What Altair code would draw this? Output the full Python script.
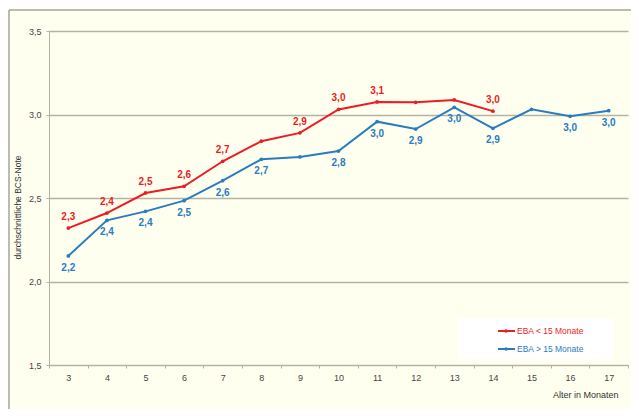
import altair as alt
import pandas as pd

ages = [3, 4, 5, 6, 7, 8, 9, 10, 11, 12, 13, 14, 15, 16, 17]

red_name = "EBA < 15 Monate"
red_ages = [3, 4, 5, 6, 7, 8, 9, 10, 11, 12, 13, 14]
red_vals = [2.32, 2.41, 2.53, 2.57, 2.72, 2.84, 2.89, 3.03, 3.075, 3.073, 3.087, 3.02]
red_labels = ["2,3", "2,4", "2,5", "2,6", "2,7", "", "2,9", "3,0", "3,1", "", "", "3,0"]

blue_name = "EBA > 15 Monate"
blue_ages = [3, 4, 5, 6, 7, 8, 9, 10, 11, 12, 13, 14, 15, 16, 17]
blue_vals = [2.153, 2.366, 2.42, 2.484, 2.604, 2.732, 2.746, 2.781, 2.957, 2.913, 3.043, 2.917, 3.031, 2.989, 3.023]
blue_labels = ["2,2", "2,4", "2,4", "2,5", "2,6", "2,7", "", "2,8", "3,0", "2,9", "3,0", "2,9", "", "3,0", "3,0"]

y_ticks = [1.5, 2.0, 2.5, 3.0, 3.5]

RED = "#ec1c24"
BLUE = "#2a7cc0"
BG = "#fffff0"
GRID = "#b3b3a3"
FONT = "Liberation Sans"

red_df = pd.DataFrame({"age": red_ages, "val": red_vals, "lab": red_labels, "series": red_name})
blue_df = pd.DataFrame({"age": blue_ages, "val": blue_vals, "lab": blue_labels, "series": blue_name})
df = pd.concat([red_df, blue_df], ignore_index=True)

x_enc = alt.X(
    "age:O",
    scale=alt.Scale(domain=ages, paddingInner=0, paddingOuter=0),
    axis=alt.Axis(
        title="Alter in Monaten",
        labelAngle=0,
        tickBand="extent",
        domainColor=GRID,
        tickColor=GRID,
        tickSize=3,
        labelPadding=5,
        labelFontSize=9,
        labelColor="#444444",
        labelFont=FONT,
        titleFont=FONT,
        titleFontSize=9,
        titleFontWeight="normal",
        titleColor="#333333",
        titleAnchor="end",
        titleAlign="right",
        titleX=569,
        titleY=29,
        titleBaseline="middle",
        grid=False,
    ),
)
y_enc = alt.Y(
    "val:Q",
    scale=alt.Scale(domain=[1.5, 3.5], nice=False, zero=False),
    axis=alt.Axis(
        title="durchschnittliche BCS-Note",
        values=y_ticks,
        labelExpr="replace(format(datum.value, '.1f'), '.', ',')",
        domainColor=GRID,
        tickColor=GRID,
        gridColor=GRID,
        gridWidth=1.3,
        tickSize=3,
        labelPadding=5,
        labelFontSize=9,
        labelColor="#444444",
        labelFont=FONT,
        titleFont=FONT,
        titleFontSize=8.5,
        titleFontWeight="normal",
        titleColor="#333333",
        titleX=-32,
        titleY=176,
        titleAngle=-90,
        titleAlign="center",
        titleBaseline="middle",
    ),
)

color_enc = alt.Color(
    "series:N",
    scale=alt.Scale(domain=[red_name, blue_name], range=[RED, BLUE]),
    legend=None,
)

base = alt.Chart(df)
lines = base.mark_line(strokeWidth=2).encode(x=x_enc, y=y_enc, color=color_enc, detail="series:N")
points = base.mark_point(filled=True, size=14, opacity=1).encode(x="age:O", y="val:Q", color=color_enc)
red_text = alt.Chart(red_df).mark_text(
    dy=-11, fontSize=10, fontWeight="bold", font=FONT, color=RED
).encode(x="age:O", y="val:Q", text="lab:N")
blue_text = alt.Chart(blue_df).mark_text(
    dy=12, fontSize=10, fontWeight="bold", font=FONT, color=BLUE
).encode(x="age:O", y="val:Q", text="lab:N")

# legend box
leg_items = pd.DataFrame({"series": [red_name, blue_name]})
one = leg_items.head(1)
leg_box = alt.Chart(one).mark_rect(color="white").encode(
    x=alt.value(409), x2=alt.value(564), y=alt.value(287), y2=alt.value(328)
)
leg_red_line = alt.Chart(one).mark_rule(color=RED, strokeWidth=2).encode(
    x=alt.value(449), x2=alt.value(466), y=alt.value(300)
)
leg_blue_line = alt.Chart(one).mark_rule(color=BLUE, strokeWidth=2).encode(
    x=alt.value(449), x2=alt.value(466), y=alt.value(318)
)
leg_red_pt = alt.Chart(one).mark_point(filled=True, size=12, color=RED, opacity=1).encode(
    x=alt.value(457), y=alt.value(300)
)
leg_blue_pt = alt.Chart(one).mark_point(filled=True, size=12, color=BLUE, opacity=1).encode(
    x=alt.value(457), y=alt.value(318)
)
leg_red_txt = alt.Chart(one).mark_text(
    align="left", baseline="middle", fontSize=8.5, font=FONT, color=RED
).encode(x=alt.value(468), y=alt.value(300), text=alt.value(red_name))
leg_blue_txt = alt.Chart(one).mark_text(
    align="left", baseline="middle", fontSize=8.5, font=FONT, color=BLUE
).encode(x=alt.value(468), y=alt.value(318), text=alt.value(blue_name))

# outer frame
frame_top = alt.Chart(one).mark_rule(color="#a5a59a", strokeWidth=1.5).encode(
    x=alt.value(-40), x2=alt.value(600), y=alt.value(-21)
)
frame_left = alt.Chart(one).mark_rule(color="#a5a59a", strokeWidth=1.5).encode(
    x=alt.value(-40), y=alt.value(-21), y2=alt.value(400)
)

chart = alt.layer(
    frame_top, frame_left,
    lines, points, red_text, blue_text,
    leg_box, leg_red_line, leg_blue_line, leg_red_pt, leg_blue_pt, leg_red_txt, leg_blue_txt,
).properties(
    width=579,
    height=334,
    autosize=alt.AutoSizeParams(type="none"),
    padding={"left": 41, "top": 23, "right": 3, "bottom": 44},
    background=BG,
).configure_view(stroke=None)

chart.save("out.html", embed_options={"renderer": "svg", "actions": False})
